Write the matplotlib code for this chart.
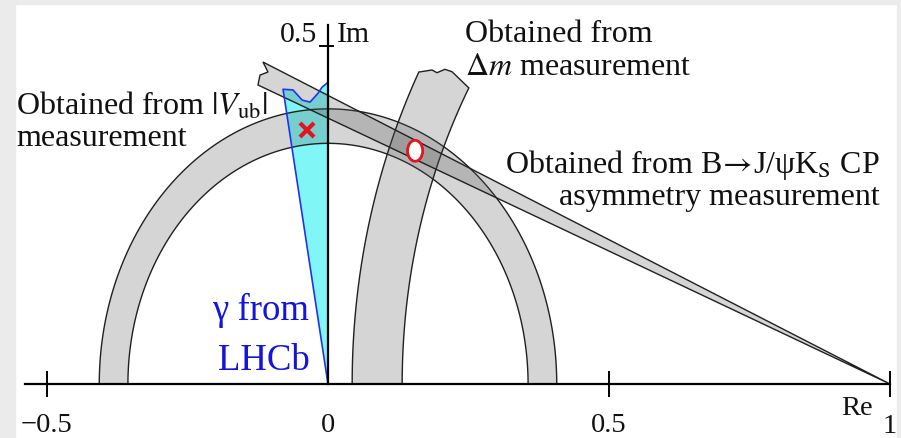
import numpy as np
import matplotlib
matplotlib.use("Agg")
import matplotlib.pyplot as plt
from matplotlib.patches import Polygon, Ellipse, Rectangle

# --- values (Re / Im plane) ---
vub_radii = [0.356, 0.407]          # |Vub| annulus about the origin
dm_radii = [0.868, 0.957]           # dm annulus about (1, 0)
dm_top_y = [0.438, 0.4615]          # where the dm band is cut (inner, outer)
dm_torn_x = [0.185, 0.194, 0.208, 0.2206]
dm_torn_y = [0.4645, 0.4605, 0.4655, 0.462]
cp_slopes = [0.3933, 0.4269]        # sin2beta wedge from (1, 0)
cp_end_x = [-0.1246, -0.1157]       # left end of wedge (lower, upper)
cp_torn_x = [-0.1068, -0.121]
cp_torn_y = [0.4615, 0.457]
gamma_x = [0.0, -0.080, -0.0623, -0.046, -0.032, -0.0178, -0.0107, -0.0018, 0.0]
gamma_y = [0.0, 0.436, 0.435, 0.420, 0.417, 0.430, 0.439, 0.445, 0.447]
lhcb_pt = (-0.037, 0.376)
fit_pt = (0.155, 0.345)
xticks = [-0.5, 0.5, 1.0]
xtick_labels = ["\u22120.5", "0", "0.5", "1"]
xtick_label_pos = [-0.5, 0.0, 0.5, 1.0]

plt.rcParams['font.family'] = ['Liberation Serif', 'DejaVu Serif']
plt.rcParams['mathtext.fontset'] = 'stix'

W, H = 901, 438
fig = plt.figure(figsize=(W / 100, H / 100), dpi=100)
fig.patch.set_facecolor('white')
ax = fig.add_axes([0, 0, 1, 1])
ax.set_xlim(-328 / 562, (W - 328) / 562)
ax.set_ylim(-(H - 384) / 676, 384 / 676)
ax.axis('off')

# faint frame of the slide behind the figure
for r in [(0, 0, 15, H), (0, 0, W, 4), (897, 0, 4, H)]:
    fig.patches.append(Rectangle((r[0] / W, 1 - (r[1] + r[3]) / H), r[2] / W, r[3] / H,
                                 transform=fig.transFigure, color='#ebebeb', zorder=0))

band_face = (0.35, 0.35, 0.35, 0.25)
band_edge = '#202020'

# gamma from LHCb
ax.fill(gamma_x, gamma_y, color='#80f6f6', lw=0, zorder=1)
ax.plot(gamma_x[:-1], gamma_y[:-1], color='#2233ee', lw=1.2, zorder=3)

# |Vub| annulus
t = np.linspace(0, np.pi, 300)
r_in, r_out = vub_radii
pts = np.concatenate([np.c_[r_out * np.cos(t), r_out * np.sin(t)],
                      np.c_[r_in * np.cos(t[::-1]), r_in * np.sin(t[::-1])]])
ax.add_patch(Polygon(pts, closed=True, facecolor=band_face, edgecolor=band_edge, lw=1.0, zorder=2))

# dm annulus around (1, 0), torn at the top
r_in, r_out = dm_radii
th_out = np.linspace(np.pi, np.pi - np.arcsin(dm_top_y[1] / r_out), 200)
th_in = np.linspace(np.pi - np.arcsin(dm_top_y[0] / r_in), np.pi, 200)
pts = np.concatenate([np.c_[1 + r_out * np.cos(th_out), r_out * np.sin(th_out)],
                      np.c_[dm_torn_x, dm_torn_y],
                      np.c_[1 + r_in * np.cos(th_in), r_in * np.sin(th_in)]])
ax.add_patch(Polygon(pts, closed=True, facecolor=band_face, edgecolor=band_edge, lw=1.0, zorder=2))

# sin2beta wedge from (1, 0), torn at the left end
s_lo, s_hi = cp_slopes
x_lo, x_hi = cp_end_x
pts = [(1, 0), (x_hi, s_hi * (1 - x_hi))] + list(zip(cp_torn_x, cp_torn_y)) + \
      [(x_lo, s_lo * (1 - x_lo))]
ax.add_patch(Polygon(pts, closed=True, facecolor=band_face, edgecolor=band_edge, lw=1.0, zorder=2))

# axes
ax.plot([-0.539, 1.0], [0, 0], color='black', lw=1.6, zorder=4)
ax.plot([0, 0], [0, 0.531], color='black', lw=1.6, zorder=4)
for xt in xticks:
    ax.plot([xt, xt], [-0.018, 0.018], color='black', lw=1.4, zorder=4)
ax.plot([-0.015, 0.009], [0.5, 0.5], color='black', lw=1.4, zorder=4)

# points
ax.plot(*lhcb_pt, marker='x', color='#e3141c', ms=10, mew=3, zorder=5)
ax.add_patch(Ellipse(fit_pt, 0.027, 0.031, facecolor='white', edgecolor='#e3141c', lw=2, zorder=5))


def px(x, y):
    return x / W, 1 - y / H


kw = dict(transform=ax.transAxes, va='baseline', color='#111111', zorder=6)
for lab, xv in zip(xtick_labels, xtick_label_pos):
    xp = 328 + xv * 562
    yb = 433 if lab == "1" else 432
    ax.text(*px(xp, yb), lab, ha='center', fontsize=20.5, **kw)
ax.text(*px(873, 415), "Re", ha='right', fontsize=20.5, **kw)
ax.text(*px(337, 42), "Im", ha='left', fontsize=21.5, **kw)
ax.text(*px(317, 42), "0.5", ha='right', fontsize=21.5, **kw)

ax.text(*px(16, 115), r"Obtained from $|V_{\rm ub}|$", ha='left', fontsize=23, **kw)
ax.text(*px(16, 146), "measurement", ha='left', fontsize=23, **kw)
ax.text(*px(465, 42), "Obtained from", ha='left', fontsize=23, **kw)
ax.text(*px(465, 75), r"$\Delta m$ measurement", ha='left', fontsize=23, **kw)
ax.text(*px(880, 173), "Obtained from B$\\!\\rightarrow\\!$J/\u03c8K$_{\\rm S}$ CP", ha='right', fontsize=23, **kw)
ax.text(*px(880, 205), "asymmetry measurement", ha='right', fontsize=23, **kw)

kw['color'] = '#1414dc'
ax.text(*px(309, 320), "\u03b3 from", ha='right', fontsize=26.5, **kw)
ax.text(*px(310, 370), "LHCb", ha='right', fontsize=26.5, **kw)

fig.savefig("out.png", dpi=100)
